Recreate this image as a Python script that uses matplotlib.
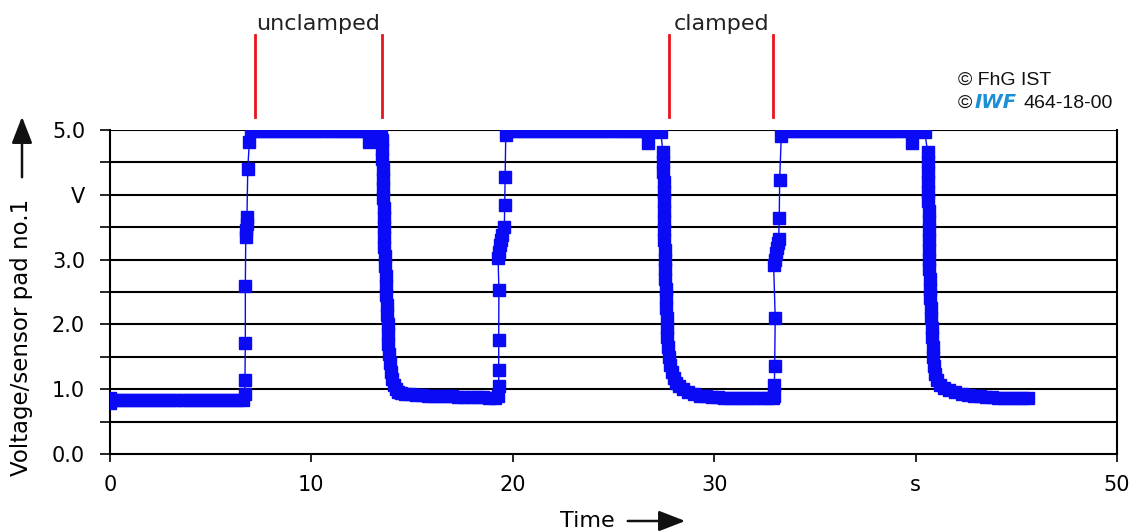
import numpy as np
import matplotlib
matplotlib.use('Agg')
import matplotlib.pyplot as plt

fontsize = 15

# ---- data (time in s, voltage in V) ----
# cycle 1: baseline, rise (unclamped), top, fall, baseline
t1 = [0.0, 0.02, 0.3, 0.6, 0.9, 1.2, 1.5, 1.8, 2.1, 2.4, 2.7, 3.0, 3.3, 3.6, 3.9, 4.2,
      4.5, 4.8, 5.1, 5.4, 5.7, 6.0, 6.3, 6.6,
      6.68, 6.70, 6.72, 6.72, 6.74, 6.76, 6.78, 6.80, 6.84, 6.92, 7.00,
      7.3, 7.6, 7.9, 8.2, 8.5, 8.8, 9.1, 9.4, 9.7, 10.0, 10.3, 10.6, 10.9, 11.2, 11.5,
      11.8, 12.1, 12.4, 12.7, 12.85, 12.95, 13.2, 13.45,
      13.50, 13.52, 13.53, 13.54, 13.55, 13.56, 13.57, 13.58, 13.59, 13.60, 13.61, 13.62,
      13.64, 13.66, 13.68, 13.70, 13.72, 13.74, 13.76, 13.78, 13.80, 13.82, 13.85, 13.89,
      13.94, 14.0, 14.08, 14.18, 14.3, 14.45, 14.65, 14.9,
      15.2, 15.5, 15.8, 16.1, 16.4, 16.7, 17.0, 17.3, 17.6, 17.9, 18.2, 18.5, 18.8, 19.1]
v1 = [0.78, 0.86, 0.84, 0.83, 0.83, 0.83, 0.83, 0.83, 0.83, 0.83, 0.83, 0.83, 0.83, 0.83, 0.83, 0.83,
      0.83, 0.83, 0.83, 0.83, 0.83, 0.83, 0.83, 0.84,
      0.92, 1.14, 1.71, 2.6, 3.35, 3.45, 3.55, 3.65, 4.4, 4.82, 4.98,
      4.98, 4.98, 4.98, 4.98, 4.98, 4.98, 4.98, 4.98, 4.98, 4.98, 4.98, 4.98, 4.98, 4.98, 4.98,
      4.98, 4.98, 4.98, 4.98, 4.82, 4.98, 4.98, 4.97,
      4.85, 4.7, 4.55, 4.4, 4.25, 4.1, 3.95, 3.8, 3.65, 3.5, 3.35, 3.2,
      3.05, 2.9, 2.75, 2.6, 2.45, 2.3, 2.15, 2.0, 1.85, 1.7, 1.55, 1.4,
      1.26, 1.15, 1.06, 1.0, 0.96, 0.94, 0.93, 0.92,
      0.91, 0.91, 0.90, 0.90, 0.89, 0.89, 0.89, 0.88, 0.88, 0.88, 0.88, 0.88, 0.87, 0.87]

# cycle 2: rise, top, fall (clamped), baseline
t2 = [19.28, 19.3, 19.3, 19.3, 19.31, 19.27, 19.3, 19.34, 19.4, 19.45, 19.58, 19.6, 19.62, 19.65,
      19.7, 20.0, 20.3, 20.6, 20.9, 21.2, 21.5, 21.8, 22.1, 22.4, 22.7, 23.0, 23.3, 23.6,
      23.9, 24.2, 24.5, 24.8, 25.1, 25.4, 25.7, 26.0, 26.3, 26.6, 26.7, 26.8, 27.1, 27.35, 27.45,
      27.47, 27.48, 27.49, 27.50, 27.50, 27.51, 27.52, 27.52, 27.53, 27.54, 27.55, 27.56,
      27.57, 27.59, 27.61, 27.62, 27.64, 27.66, 27.68, 27.71, 27.75, 27.8, 27.88, 27.98,
      28.1, 28.25, 28.45, 28.7, 29.0, 29.3,
      29.6, 29.9, 30.2, 30.5, 30.8, 31.1, 31.4, 31.7, 32.0, 32.3, 32.6, 32.9]
v2 = [0.9, 1.05, 1.3, 1.76, 2.53, 3.02, 3.12, 3.22, 3.3, 3.38, 3.5, 3.84, 4.27, 4.92,
      4.98, 4.98, 4.98, 4.98, 4.98, 4.98, 4.98, 4.98, 4.98, 4.98, 4.98, 4.98, 4.98, 4.98,
      4.98, 4.98, 4.98, 4.98, 4.98, 4.98, 4.98, 4.98, 4.98, 4.98, 4.8, 4.98, 4.98, 4.97, 4.66,
      4.5, 4.35, 4.2, 4.05, 3.9, 3.75, 3.6, 3.45, 3.3, 3.15, 3.0, 2.85,
      2.7, 2.55, 2.4, 2.25, 2.1, 1.95, 1.8, 1.65, 1.5, 1.38, 1.26, 1.18,
      1.1, 1.05, 1.0, 0.95, 0.92, 0.9,
      0.89, 0.88, 0.88, 0.87, 0.87, 0.87, 0.87, 0.87, 0.87, 0.87, 0.87, 0.87]

# cycle 3: rise, top, fall, tail
t3 = [32.97, 32.99, 33.0, 33.03, 32.95, 33.0, 33.05, 33.1, 33.15, 33.2, 33.23, 33.25, 33.33,
      33.4, 33.7, 34.0, 34.3, 34.6, 34.9, 35.2, 35.5, 35.8, 36.1, 36.4, 36.7, 37.0, 37.3,
      37.6, 37.9, 38.2, 38.5, 38.8, 39.1, 39.4, 39.7, 39.8, 39.9, 40.2, 40.45, 40.6,
      40.62, 40.63, 40.63, 40.64, 40.64, 40.65, 40.65, 40.66, 40.66, 40.67, 40.68, 40.69,
      40.7, 40.71, 40.73, 40.75, 40.77, 40.79, 40.81, 40.84, 40.87, 40.92, 40.98, 41.08,
      41.2, 41.4, 41.65, 41.95, 42.3,
      42.6, 42.9, 43.2, 43.5, 43.8, 44.1, 44.4, 44.7, 45.0, 45.3, 45.6]
v3 = [0.9, 1.07, 1.36, 2.1, 2.92, 3.0, 3.1, 3.18, 3.25, 3.32, 3.64, 4.23, 4.9,
      4.98, 4.98, 4.98, 4.98, 4.98, 4.98, 4.98, 4.98, 4.98, 4.98, 4.98, 4.98, 4.98, 4.98,
      4.98, 4.98, 4.98, 4.98, 4.98, 4.98, 4.98, 4.98, 4.8, 4.98, 4.98, 4.97, 4.66,
      4.5, 4.35, 4.2, 4.05, 3.9, 3.75, 3.6, 3.45, 3.3, 3.15, 3.0, 2.85,
      2.7, 2.55, 2.4, 2.25, 2.1, 1.95, 1.8, 1.65, 1.5, 1.36, 1.24, 1.14,
      1.07, 1.02, 0.98, 0.95, 0.92,
      0.91, 0.9, 0.89, 0.88, 0.88, 0.87, 0.87, 0.86, 0.86, 0.86, 0.86]

# red markers for the clamping events
event_times = [7.2, 13.5, 27.75, 32.92]
event_labels = ['unclamped', 'clamped']
event_label_pos = [10.35, 30.35]

x_ticks = [0, 10, 20, 30, 40, 50]
x_ticklabels = ['0', '10', '20', '30', 's', '50']
y_ticks = [0, 1, 2, 3, 4, 5]
y_ticklabels = ['0.0', '1.0', '2.0', '3.0', 'V', '5.0']

time = np.concatenate([t1, t2, t3])
volt = np.concatenate([v1, v2, v3])

W, H = 1134, 531
fig = plt.figure(figsize=(W / 100, H / 100), dpi=100)
ax = fig.add_axes([110 / W, 77 / H, 1007 / W, 324 / H])

ax.plot(time, volt, color='#0a0af5', lw=1.0, marker='s', ms=8,
        mec='#0a0af5', mfc='#0a0af5', zorder=3)

ax.set_xlim(0, 50)
ax.set_ylim(0, 5)
for y in np.arange(0.5, 5.01, 0.5):
    ax.axhline(y, color='black', lw=1.5, zorder=1)

ax.set_xticks(x_ticks)
ax.set_xticklabels(x_ticklabels)
ax.set_yticks(np.arange(0, 5.01, 0.5), minor=True)
ax.set_yticks(y_ticks)
ax.set_yticklabels(y_ticklabels)
ax.tick_params(axis='y', which='both', direction='out', length=7, width=1.2, pad=11,
               labelsize=fontsize)
ax.tick_params(axis='x', direction='out', length=6, width=1.2, pad=9, labelsize=fontsize)
for s in ax.spines.values():
    s.set_linewidth(1.5)
ax.spines['top'].set_visible(False)

# event lines above the axes
for t in event_times:
    ax.plot([t, t], [5.2, 6.47], color='#e8141c', lw=2, clip_on=False)
for lab, x in zip(event_labels, event_label_pos):
    ax.text(x, 6.54, lab, ha='center', va='baseline', fontsize=16, color='#222222')

# axis labels with arrows
fig.text(22 / W, 1 - 337 / H, 'Voltage/sensor pad no.1', rotation=90,
         ha='center', va='center', fontsize=16.5)
fig.patches.append(matplotlib.patches.FancyArrowPatch(
    (22 / W, 1 - 180 / H), (22 / W, 1 - 114 / H), transform=fig.transFigure,
    arrowstyle='-|>,head_length=0.9,head_width=0.35', mutation_scale=18,
    color='#111111', lw=1.8))
fig.text(587 / W, 1 - 521 / H, 'Time', ha='center', va='center', fontsize=16)
fig.patches.append(matplotlib.patches.FancyArrowPatch(
    (625 / W, 1 - 521 / H), (688 / W, 1 - 521 / H), transform=fig.transFigure,
    arrowstyle='-|>,head_length=0.9,head_width=0.35', mutation_scale=18,
    color='#111111', lw=1.8))

# copyright block
cfont = dict(family='Liberation Sans', fontsize=14, va='center', color='#111111')
fig.text(958 / W, 1 - 80 / H, '\u00a9 FhG IST', **cfont)
fig.text(958 / W, 1 - 103 / H, '\u00a9', **cfont)
fig.text(975 / W, 1 - 103 / H, 'IWF', family='DejaVu Sans', fontsize=14,
         fontweight='bold', style='italic', color='#1c8fd6', va='center')
fig.text(1023 / W, 1 - 103 / H, '464-18-00', **cfont)

fig.savefig('out.png', dpi=100)
